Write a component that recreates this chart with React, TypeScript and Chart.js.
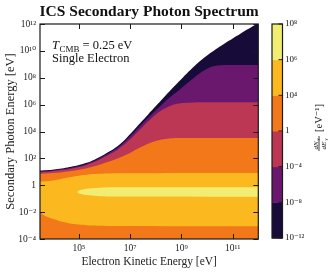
import React, { useEffect, useRef } from 'react';
import { Chart, registerables } from 'chart.js';

Chart.register(...registerables);

// ---------- data (log10 of energies in eV) ----------
// shared electron-energy grid for the upper contours
const electronLog = [3.477, 3.8, 4.1, 4.4, 4.7, 5.0, 5.3, 5.6, 5.9, 6.2, 6.5, 6.8, 7.1, 7.4, 7.7, 8.0, 8.3, 8.6, 8.9, 9.2, 9.5, 9.8, 10.1, 10.4, 10.7, 11.0, 11.3, 11.6, 12.0];
// edge of the spectrum (maximum photon energy)
const cutoffLog = [1.09, 1.13, 1.19, 1.27, 1.37, 1.5, 1.67, 1.9, 2.2, 2.53, 2.91, 3.41, 4.01, 4.65, 5.27, 5.89, 6.51, 7.12, 7.72, 8.3, 8.85, 9.35, 9.8, 10.2, 10.57, 10.92, 11.27, 11.62, 12.07];
// contour dN/dE = 1e-8
const contourM8Log = [1.03, 1.07, 1.13, 1.205, 1.3, 1.425, 1.59, 1.815, 2.11, 2.43, 2.8, 3.28, 3.85, 4.45, 5.02, 5.58, 6.13, 6.62, 7.07, 7.55, 8.02, 8.45, 8.77, 8.91, 8.95, 8.95, 8.95, 8.95, 8.95];
// contour dN/dE = 1e-4
const contourM4Log = [0.97, 1.01, 1.07, 1.145, 1.235, 1.35, 1.51, 1.73, 2.01, 2.31, 2.65, 3.09, 3.61, 4.18, 4.76, 5.27, 5.67, 5.94, 6.08, 6.14, 6.165, 6.17, 6.17, 6.17, 6.17, 6.17, 6.17, 6.17, 6.17];
// contour dN/dE = 1
const contour0Log = [0.85, 0.89, 0.93, 0.99, 1.06, 1.15, 1.27, 1.42, 1.59, 1.78, 1.99, 2.24, 2.52, 2.82, 3.09, 3.29, 3.42, 3.49, 3.515, 3.52, 3.52, 3.52, 3.52, 3.52, 3.52, 3.52, 3.52, 3.52, 3.52];

// contour dN/dE = 1e4 (upper branch)
const upper4ElectronLog = [3.477, 3.7, 3.9, 4.1, 4.3, 4.5, 4.7, 4.9, 5.1, 5.3, 5.5, 5.8, 6.2, 6.7, 8.0, 12.0];
const contour4UpperLog = [0.27, 0.3, 0.34, 0.4, 0.47, 0.55, 0.62, 0.68, 0.74, 0.79, 0.83, 0.86, 0.88, 0.89, 0.9, 0.91];
// contour dN/dE = 1e4 (lower branch)
const lower4ElectronLog = [3.477, 3.52, 3.6, 3.7, 3.85, 4.0, 4.2, 4.4, 4.6, 4.8, 5.0, 5.3, 5.7, 6.5, 12.0];
const contour4LowerLog = [-1.95, -2.08, -2.2, -2.3, -2.42, -2.52, -2.64, -2.74, -2.82, -2.88, -2.93, -2.98, -3.01, -3.03, -3.06];
// contour dN/dE = 1e6 (closed lens)
const lensElectronLog = [4.93, 4.97, 5.05, 5.2, 5.4, 5.6, 5.85, 6.1, 6.5, 12.0];
const contour6UpperLog = [-0.5, -0.42, -0.36, -0.3, -0.25, -0.21, -0.18, -0.165, -0.155, -0.14];
const contour6LowerLog = [-0.5, -0.58, -0.64, -0.7, -0.75, -0.79, -0.82, -0.835, -0.845, -0.86];

// axes
const xTickValues = [1e5, 1e7, 1e9, 1e11];
const xTickLabels = ['10⁵', '10⁷', '10⁹', '10¹¹'];
const yTickValues = [1e-4, 1e-2, 1, 1e2, 1e4, 1e6, 1e8, 1e10, 1e12];
const yTickLabels = ['10⁻⁴', '10⁻²', '1', '10²', '10⁴', '10⁶', '10⁸', '10¹⁰', '10¹²'];

// colour bar (bottom to top)
const levelLabels = ['10⁻¹²', '10⁻⁸', '10⁻⁴', '1', '10⁴', '10⁶', '10⁸'];
const bandColors = ['#170b3a', '#6a176e', '#bc3754', '#f37819', '#fbb91f', '#f1ed73'];

const SERIF = '"Liberation Serif", "DejaVu Serif", serif';

function pts(xs: number[], ys: number[]) {
  return xs.map((x, i) => ({ x: Math.pow(10, x), y: Math.pow(10, ys[i]) }));
}

function layer(data: any[], color: string, fill: any, order: number) {
  return {
    data,
    backgroundColor: color,
    borderColor: color,
    borderWidth: 0,
    pointRadius: 0,
    fill,
    order,
    tension: 0.3,
  };
}

const decorPlugin = {
  id: 'decor',
  afterDraw(chart: any) {
    const { ctx, chartArea: a, scales } = chart;
    ctx.save();
    // frame
    ctx.strokeStyle = '#1a1a1a';
    ctx.lineWidth = 1.2;
    ctx.strokeRect(a.left, a.top, a.right - a.left, a.bottom - a.top);
    // inward ticks
    ctx.lineWidth = 1;
    const tl = 5;
    xTickValues.forEach((v) => {
      const px = Math.round(scales.x.getPixelForValue(v)) + 0.5;
      ctx.beginPath();
      ctx.moveTo(px, a.bottom); ctx.lineTo(px, a.bottom - tl);
      ctx.moveTo(px, a.top); ctx.lineTo(px, a.top + tl);
      ctx.stroke();
    });
    yTickValues.forEach((v) => {
      const py = Math.round(scales.y.getPixelForValue(v)) + 0.5;
      ctx.beginPath();
      ctx.moveTo(a.left, py); ctx.lineTo(a.left + tl, py);
      ctx.moveTo(a.right, py); ctx.lineTo(a.right - tl, py);
      ctx.stroke();
    });

    // title
    ctx.fillStyle = '#111';
    ctx.font = `bold 15.5px ${SERIF}`;
    ctx.textAlign = 'center';
    ctx.textBaseline = 'alphabetic';
    ctx.fillText('ICS Secondary Photon Spectrum', (a.left + a.right) / 2, 16);

    // annotation
    ctx.textAlign = 'left';
    let x = a.left + 12;
    ctx.font = `italic 12.5px ${SERIF}`;
    ctx.fillText('T', x, 48.5);
    x += ctx.measureText('T').width + 0.5;
    ctx.font = `9px ${SERIF}`;
    ctx.fillText('CMB', x, 51.5);
    x += ctx.measureText('CMB').width;
    ctx.font = `12.5px ${SERIF}`;
    ctx.fillText(' = 0.25 eV', x, 48.5);
    ctx.fillText('Single Electron', a.left + 12, 62);

    // colour bar
    const cbL = 272, cbR = 282.5, cbT = a.top, cbB = 238;
    const n = bandColors.length;
    const h = (cbB - cbT) / n;
    for (let i = 0; i < n; i++) {
      ctx.fillStyle = bandColors[i];
      ctx.fillRect(cbL, cbB - (i + 1) * h, cbR - cbL, h + 0.5);
    }
    ctx.strokeStyle = '#1a1a1a';
    ctx.lineWidth = 1.2;
    ctx.strokeRect(cbL, cbT, cbR - cbL, cbB - cbT);
    ctx.lineWidth = 1;
    ctx.fillStyle = '#111';
    ctx.textBaseline = 'middle';
    for (let i = 0; i <= n; i++) {
      const y = cbB - i * h;
      ctx.beginPath();
      ctx.moveTo(cbR, y); ctx.lineTo(cbR - 4, y);
      ctx.stroke();
      ctx.font = `9px ${SERIF}`;
      ctx.fillText(levelLabels[i], cbR + 2.5, y);
    }

    // colour bar label (rotated)
    ctx.translate(319, 128);
    ctx.rotate(-Math.PI / 2);
    ctx.textAlign = 'center';
    ctx.textBaseline = 'alphabetic';
    ctx.font = `italic 7px ${SERIF}`;
    ctx.fillText('dN', -17.5, -1.5);
    ctx.fillText('dE', -17.5, 6.5);
    ctx.font = `italic 5px ${SERIF}`;
    ctx.fillText('γ', -11.5, 0);
    ctx.fillText('γ', -11.5, 8);
    ctx.fillRect(-23, -0.4, 15, 0.8);
    ctx.font = `10.5px ${SERIF}`;
    ctx.textBaseline = 'middle';
    ctx.fillText('[eV⁻¹]', 10, 0);
    ctx.restore();
  },
};

export default function App() {
  const ref = useRef<HTMLCanvasElement>(null);
  useEffect(() => {
    if (!ref.current) return;
    const datasets: any[] = [
      layer(pts(electronLog, cutoffLog), bandColors[0], 'start', 10),
      layer(pts(electronLog, contourM8Log), bandColors[1], 'start', 9),
      layer(pts(electronLog, contourM4Log), bandColors[2], 'start', 8),
      layer(pts(electronLog, contour0Log), bandColors[3], 'start', 7),
      layer(pts(upper4ElectronLog, contour4UpperLog), bandColors[4], 'start', 6),
      layer(pts(lower4ElectronLog, contour4LowerLog), bandColors[3], 'start', 5),
      layer(pts(lensElectronLog, contour6UpperLog), bandColors[5], '+1', 4),
      layer(pts(lensElectronLog, contour6LowerLog), bandColors[5], false, 3),
    ];
    const chart = new Chart(ref.current, {
      type: 'line',
      data: { datasets },
      options: {
        animation: false,
        responsive: false,
        devicePixelRatio: 1,
        layout: { padding: { top: 24, right: 76.7, left: 0, bottom: 0 } },
        plugins: { legend: { display: false }, tooltip: { enabled: false }, title: { display: false } },
        scales: {
          x: {
            type: 'logarithmic',
            min: 3e3,
            max: 1e12,
            grid: { display: false, drawTicks: false },
            border: { display: false },
            afterFit: (s: any) => { s.height = 34; },
            afterBuildTicks: (s: any) => { s.ticks = xTickValues.map((v) => ({ value: v })); },
            ticks: {
              autoSkip: false,
              maxRotation: 0,
              padding: 4,
              color: '#222',
              font: { family: SERIF, size: 9.5 },
              callback: (v: any) => { const i = xTickValues.indexOf(Number(v)); return i >= 0 ? xTickLabels[i] : ''; },
            },
            title: { display: true, text: 'Electron Kinetic Energy [eV]', color: '#222', font: { family: SERIF, size: 11.5 }, padding: { top: 0, bottom: 4 } },
          },
          y: {
            type: 'logarithmic',
            min: 1e-4,
            max: 1e12,
            grid: { display: false, drawTicks: false },
            border: { display: false },
            afterFit: (s: any) => { s.width = 40; },
            afterBuildTicks: (s: any) => { s.ticks = yTickValues.map((v) => ({ value: v })); },
            ticks: {
              autoSkip: false,
              padding: 4,
              color: '#222',
              font: { family: SERIF, size: 9.5 },
              callback: (v: any) => { const i = yTickValues.findIndex((t) => Math.abs(Math.log10(t) - Math.log10(Number(v))) < 1e-6); return i >= 0 ? yTickLabels[i] : ''; },
            },
            title: { display: true, text: 'Secondary Photon Energy [eV]', color: '#222', font: { family: SERIF, size: 12.5 }, padding: { top: 3, bottom: 0 } },
          },
        },
      },
      plugins: [decorPlugin],
    } as any);
    return () => chart.destroy();
  }, []);
  return (
    <div style={{ position: 'fixed', left: 0, top: 0, width: 335, height: 273, background: '#fff' }}>
      <canvas ref={ref} width={335} height={273} style={{ display: 'block' }} />
    </div>
  );
}
